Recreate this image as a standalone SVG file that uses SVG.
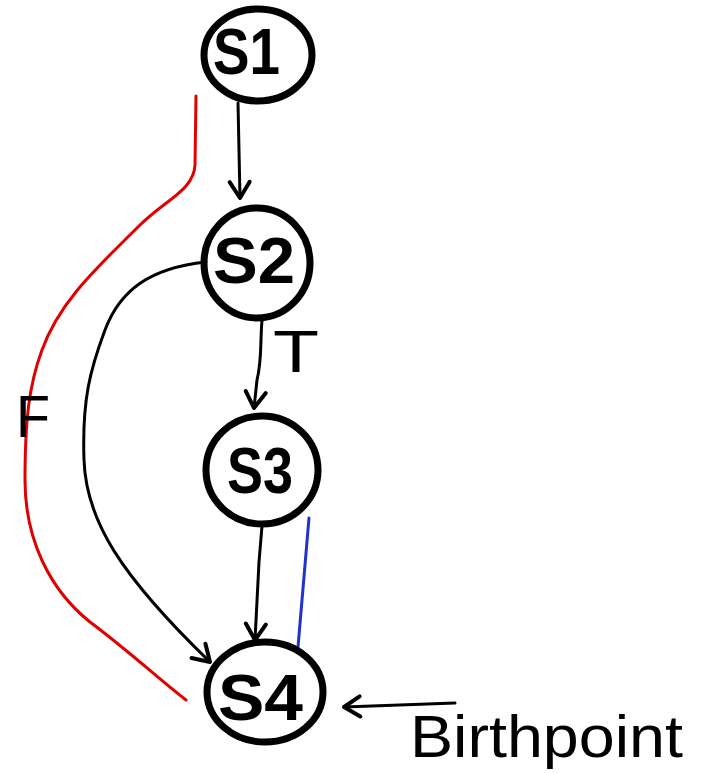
<svg xmlns="http://www.w3.org/2000/svg" width="704" height="773" viewBox="0 0 704 773">
  <style>
    .node { fill: none; stroke: #000; stroke-width: 7; }
    .label { font-family: "Liberation Sans", Arial, sans-serif; font-weight: bold; font-size: 64px; fill: #000; }
    .edge { fill: none; stroke: #000; stroke-width: 3; stroke-linecap: round; stroke-linejoin: round; }
    .red { stroke: #e00000; }
    .blue { stroke: #2233cc; }
    .note { font-family: "Liberation Sans", Arial, sans-serif; font-size: 60px; fill: #000; }
  </style>
  <defs>
    <marker id="chev" markerUnits="userSpaceOnUse" markerWidth="40" markerHeight="40" refX="0" refY="0" viewBox="-20 -20 40 40" orient="auto" overflow="visible">
      <path d="M-16,-10 L0,0 L-16,10" fill="none" stroke="#000" stroke-width="4" stroke-linecap="round" stroke-linejoin="round"/>
    </marker>
  </defs>
  <rect width="704" height="773" fill="#fff"/>

  <g id="connectors">
    <!-- S1 to S2 -->
    <path class="edge" d="M238,103 L240,198" marker-end="url(#chev)"/>
    <!-- S2 to S3 (T) -->
    <path class="edge" d="M262,320 C260,345 262,360 257,380 L254,408" marker-end="url(#chev)"/>
    <!-- S3 to S4 -->
    <path class="edge" d="M262,526 L259,562 L255,640" marker-end="url(#chev)"/>
    <!-- S2 to S4 -->
    <path class="edge" d="M206,262 C150,268 120,290 105,330 C90,370 82,400 84,460 C86,520 120,575 210,662" marker-end="url(#chev)"/>
    <!-- F branch -->
    <path class="edge red" d="M196,96 L195,165 C194,190 165,200 140,225 C100,265 60,300 42,350 C29,385 25,420 25,480 C25,540 50,590 90,622 C130,652 160,680 186,700"/>
    <!-- S3 to S4 highlighted -->
    <path class="edge blue" d="M309,518 L298,647"/>
    <!-- birthpoint pointer -->
    <path class="edge" d="M455,703 L344,707" marker-end="url(#chev)"/>
  </g>

  <g id="S1">
    <ellipse class="node" cx="258" cy="55" rx="54" ry="46"/>
    <text class="label" x="213" y="74" textLength="67" lengthAdjust="spacingAndGlyphs">S1</text>
  </g>
  <g id="S2">
    <ellipse class="node" cx="257" cy="263" rx="53" ry="55"/>
    <text class="label" x="213" y="283" textLength="82" lengthAdjust="spacingAndGlyphs">S2</text>
  </g>
  <g id="S3">
    <ellipse class="node" cx="262" cy="470" rx="56" ry="54"/>
    <text class="label" x="227" y="493" textLength="66" lengthAdjust="spacingAndGlyphs">S3</text>
  </g>
  <g id="S4">
    <ellipse class="node" cx="265" cy="692" rx="58" ry="50"/>
    <text class="label" x="218" y="720" textLength="85" lengthAdjust="spacingAndGlyphs">S4</text>
  </g>

  <g id="labels">
    <text class="note" x="16" y="437" font-size="78" textLength="34" lengthAdjust="spacingAndGlyphs">F</text>
    <text class="note" x="273" y="372" font-size="54" textLength="46" lengthAdjust="spacingAndGlyphs">T</text>
    <text class="note" x="410" y="757" textLength="273" lengthAdjust="spacingAndGlyphs">Birthpoint</text>
  </g>
</svg>
